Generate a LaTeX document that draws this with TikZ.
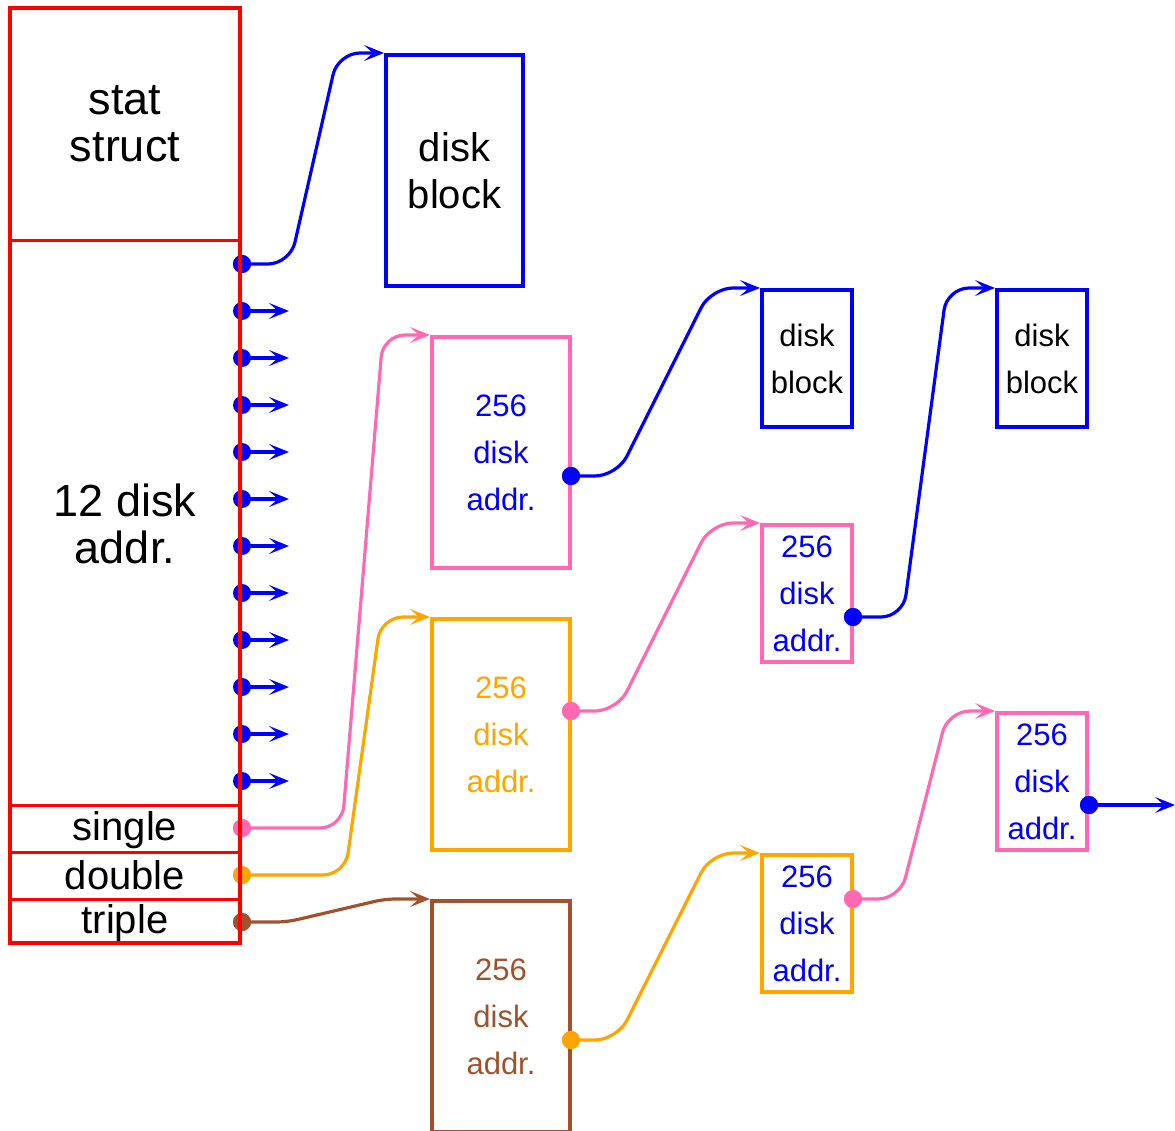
\documentclass[tikz,border=0pt]{standalone}
\usepackage{fontspec}
\setmainfont{Liberation Sans}
\usetikzlibrary{arrows.meta}
\definecolor{hpink}{RGB}{255,105,180}
\definecolor{orng}{RGB}{255,165,0}
\definecolor{brwn}{RGB}{160,82,45}
\tikzset{
  hugetxt/.style={font=\fontsize{45}{47}\selectfont, align=center},
  bigtxt/.style={font=\fontsize{40}{47}\selectfont, align=center},
  smalltxt/.style={font=\fontsize{31}{47}\selectfont, align=center},
  bigbox/.style={draw, inner sep=0pt, outer sep=0pt, minimum width=137pt, minimum height=231pt, anchor=north west, bigtxt},
  tallbox/.style={draw, inner sep=0pt, outer sep=0pt, minimum width=138pt, minimum height=231pt, anchor=north west, smalltxt},
  smallbox/.style={draw, inner sep=0pt, outer sep=0pt, minimum width=90pt, minimum height=137pt, anchor=north west, smalltxt},
  tip/.style={-{Stealth[length=20pt,width=16pt,inset=9pt]}},
  conn/.style={line width=3.2pt, rounded corners=22pt, tip},
  dot/.style={circle, fill, inner sep=0pt, minimum size=18pt},
}
\begin{document}
\begin{tikzpicture}[x=1pt,y=-1pt]
\useasboundingbox (0,0) rectangle (1175,1131);
% inode texts
\node[hugetxt] (stat) at (125,124) {stat\\struct};
\node[hugetxt] (twelve) at (125,524) {12 disk\\addr.};
\node[bigtxt, anchor=base] (single) at (125,840) {single};
\node[bigtxt, anchor=base] (double) at (125,889) {double};
\node[bigtxt, anchor=base] (triple) at (125,933) {triple};
% boxes
\node[bigbox, blue, line width=4pt, text=black] (db0) at (386,55) {disk\\block};
\node[tallbox, hpink, line width=3.5pt, text=blue] (s1) at (432,337) {256\\disk\\addr.};
\node[tallbox, orng, line width=3.5pt, text=orng] (d1) at (432,619) {256\\disk\\addr.};
\node[tallbox, brwn, line width=3.5pt, text=brwn] (t1) at (432,901) {256\\disk\\addr.};
\node[smallbox, blue, line width=4pt, text=black] (db1) at (762,290) {disk\\block};
\node[smallbox, blue, line width=4pt, text=black] (db2) at (997,290) {disk\\block};
\node[smallbox, hpink, line width=3.5pt, text=blue] (s2) at (762,525) {256\\disk\\addr.};
\node[smallbox, orng, line width=3.5pt, text=blue] (d2) at (762,855) {256\\disk\\addr.};
\node[smallbox, hpink, line width=3.5pt, text=blue] (s3) at (997,713) {256\\disk\\addr.};
% direct pointers
\foreach \i/\yy in {1/311,2/358,3/405,4/452,5/499,6/546,7/593,8/640,9/687,10/734,11/781}{
  \node[dot, blue] (pd\i) at (242,\yy) {};
  \coordinate (pe\i) at (289,\yy);
  \draw[blue, line width=3.2pt, tip] (pd\i.center) -- (pe\i);
}
\node[dot, blue] (pd0) at (242,264) {};
\node[dot, hpink] (ps) at (242,828) {};
\node[dot, orng] (pdd) at (242,875) {};
\node[dot, brwn] (pt) at (242,922) {};
\node[dot, blue] (s1d) at (571,476) {};
\node[dot, hpink] (d1d) at (571,711) {};
\node[dot, orng] (t1d) at (571,1040) {};
\node[dot, blue] (s2d) at (853,617) {};
\node[dot, hpink] (d2d) at (853,899) {};
\node[dot, blue] (s3d) at (1089,805) {};
\coordinate (outend) at (1175,805);
% connectors
\draw[conn, blue] (pd0.center) -- ++(48,0) -- ([xshift=-48pt,yshift=2pt]db0.north west) -- ([xshift=-2pt,yshift=2pt]db0.north west);
\draw[conn, hpink] (ps.center) -- ++(100,0) -- ([xshift=-49pt,yshift=2pt]s1.north west) -- ([xshift=-2pt,yshift=2pt]s1.north west);
\draw[conn, orng] (pdd.center) -- ++(103,0) -- ([xshift=-51pt,yshift=2pt]d1.north west) -- ([xshift=-2pt,yshift=2pt]d1.north west);
\draw[conn, brwn, rounded corners=10pt] (pt.center) -- ++(45,0) -- ([xshift=-47pt,yshift=2pt]t1.north west) -- ([xshift=-2pt,yshift=2pt]t1.north west);
\draw[conn, blue] (s1d.center) -- ++(46,0) -- ([xshift=-51pt,yshift=2pt]db1.north west) -- ([xshift=-2pt,yshift=2pt]db1.north west);
\draw[conn, hpink] (d1d.center) -- ++(46,0) -- ([xshift=-51pt,yshift=2pt]s2.north west) -- ([xshift=-2pt,yshift=2pt]s2.north west);
\draw[conn, orng] (t1d.center) -- ++(46,0) -- ([xshift=-51pt,yshift=2pt]d2.north west) -- ([xshift=-2pt,yshift=2pt]d2.north west);
\draw[conn, blue] (s2d.center) -- ++(50,0) -- ([xshift=-50pt,yshift=2pt]db2.north west) -- ([xshift=-2pt,yshift=2pt]db2.north west);
\draw[conn, hpink] (d2d.center) -- ++(47,0) -- ([xshift=-49pt,yshift=2pt]s3.north west) -- ([xshift=-2pt,yshift=2pt]s3.north west);
\draw[conn, blue] (s3d.center) -- (outend);
% dots on top of connectors
\foreach \n/\c in {pd0/blue,ps/hpink,pdd/orng,pt/brwn,s1d/blue,d1d/hpink,t1d/orng,s2d/blue,d2d/hpink,s3d/blue}{
  \fill[\c] (\n.center) circle (9pt);
}
% inode outline drawn over the dots
\draw[red, line width=3pt] (10,241) -- (240,241) (10,805) -- (240,805) (10,852) -- (240,852) (10,899) -- (240,899);
\draw[red, line width=4pt] (10,8) rectangle (240,943);
\end{tikzpicture}
\end{document}
